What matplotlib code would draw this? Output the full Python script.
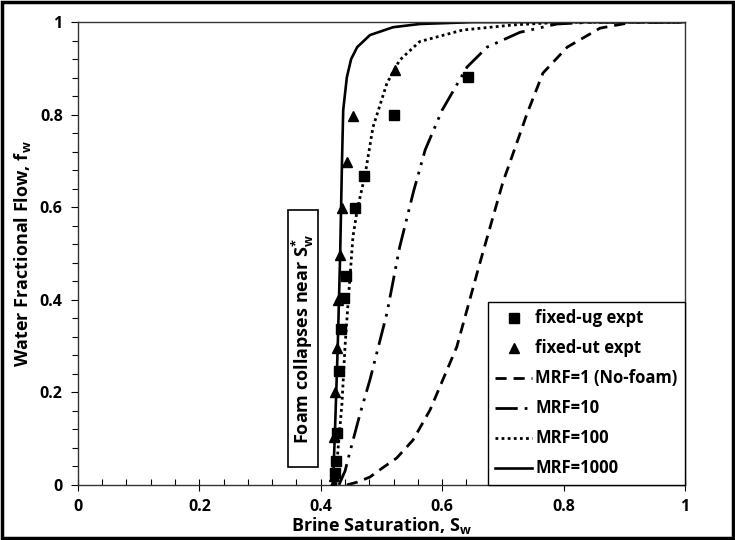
import matplotlib
matplotlib.use('Agg')
import matplotlib.pyplot as plt
from matplotlib.patches import Rectangle
from matplotlib.ticker import MultipleLocator, FuncFormatter

plt.rcParams['font.family'] = ['Open Sans', 'DejaVu Sans']
plt.rcParams['font.weight'] = 'bold'
plt.rcParams['mathtext.fontset'] = 'custom'
plt.rcParams['mathtext.rm'] = 'Open Sans:bold'
plt.rcParams['mathtext.it'] = 'Open Sans:bold'
plt.rcParams['mathtext.bf'] = 'Open Sans:bold'

# experimental points
ug_sw = [0.423, 0.425, 0.427, 0.430, 0.433, 0.438, 0.441, 0.456, 0.472, 0.521, 0.642]
ug_fw = [0.026, 0.052, 0.112, 0.246, 0.337, 0.404, 0.451, 0.598, 0.667, 0.800, 0.882]
ut_sw = [0.420, 0.421, 0.421, 0.423, 0.426, 0.428, 0.432, 0.435, 0.443, 0.453, 0.522]
ut_fw = [0.000, 0.020, 0.104, 0.200, 0.296, 0.400, 0.497, 0.598, 0.698, 0.797, 0.896]

# model curves
mrf1_sw = [0.443, 0.460, 0.481, 0.502, 0.525, 0.552, 0.580, 0.624, 0.662, 0.700, 0.717,
           0.740, 0.766, 0.806, 0.860, 0.914, 1.0]
mrf1_fw = [0.0, 0.006, 0.017, 0.037, 0.058, 0.097, 0.162, 0.298, 0.479, 0.654, 0.717,
           0.803, 0.890, 0.946, 0.987, 1.0, 1.0]
mrf10_sw = [0.430, 0.440, 0.448, 0.465, 0.481, 0.509, 0.530, 0.553, 0.572, 0.600, 0.641,
            0.674, 0.728, 0.789, 0.850, 1.0]
mrf10_fw = [0.0, 0.030, 0.071, 0.155, 0.227, 0.371, 0.514, 0.635, 0.724, 0.810, 0.903,
            0.946, 0.978, 0.996, 1.0, 1.0]
mrf100_sw = [0.425, 0.428, 0.435, 0.440, 0.445, 0.453, 0.460, 0.473, 0.486, 0.509, 0.530,
             0.563, 0.634, 0.717, 0.800, 1.0]
mrf100_fw = [0.0, 0.070, 0.177, 0.300, 0.393, 0.536, 0.594, 0.670, 0.773, 0.868, 0.918,
             0.958, 0.983, 0.994, 1.0, 1.0]
mrf1000_sw = [0.420, 0.423, 0.428, 0.432, 0.435, 0.437, 0.443, 0.450, 0.460, 0.481, 0.519,
              0.563, 0.650, 1.0]
mrf1000_fw = [0.0, 0.100, 0.300, 0.500, 0.700, 0.810, 0.881, 0.920, 0.946, 0.972, 0.989,
              0.996, 1.0, 1.0]

fig = plt.figure(figsize=(7.35, 5.4), dpi=100)
ax = fig.add_axes([0.106, 0.102, 0.826, 0.857])

ax.plot(ug_sw, ug_fw, 's', color='black', markersize=7.5, label='fixed-ug expt', zorder=5)
ax.plot(ut_sw, ut_fw, '^', color='black', markersize=7.5, label='fixed-ut expt', zorder=5)
ax.plot(mrf1_sw, mrf1_fw, color='black', lw=2, linestyle=(0, (4, 2.5)), label='MRF=1 (No-foam)')
ax.plot(mrf10_sw, mrf10_fw, color='black', lw=2, linestyle=(0, (8, 2.5, 1, 2.5, 1, 2.5)), label='MRF=10')
ax.plot(mrf100_sw, mrf100_fw, color='black', lw=2, linestyle=(0, (1, 1.2)), label='MRF=100')
ax.plot(mrf1000_sw, mrf1000_fw, color='black', lw=1.9, linestyle='-', label='MRF=1000')

ax.set_xlim(0, 1)
ax.set_ylim(0, 1)
fmt = FuncFormatter(lambda v, p: f'{v:g}')
ax.xaxis.set_major_locator(MultipleLocator(0.2))
ax.xaxis.set_minor_locator(MultipleLocator(0.04))
ax.yaxis.set_major_locator(MultipleLocator(0.2))
ax.yaxis.set_minor_locator(MultipleLocator(0.04))
ax.xaxis.set_major_formatter(fmt)
ax.yaxis.set_major_formatter(fmt)
ax.tick_params(axis='x', which='major', direction='inout', length=8, width=0.8, labelsize=11.5, pad=6)
ax.tick_params(axis='x', which='minor', direction='in', length=4, width=0.8)
ax.tick_params(axis='y', which='major', direction='out', length=5, width=0.8, labelsize=11.5, pad=6)
ax.tick_params(axis='y', which='minor', direction='out', length=4, width=0.8)
for sp in ax.spines.values():
    sp.set_linewidth(1.0)
    sp.set_color('#333333')

ax.set_xlabel('Brine Saturation, S$_\\mathrm{w}$', fontsize=13, fontweight='bold', labelpad=0)
ax.set_ylabel('Water Fractional Flow, f$_\\mathrm{w}$', fontsize=13, fontweight='bold', labelpad=5)

ax.add_patch(Rectangle((0.346, 0.039), 0.049, 0.555, fill=False, edgecolor='black', lw=1.2, zorder=3))
ax.text(0.371, 0.316, 'Foam collapses near S$^{*}_\\mathrm{w}$', rotation=90,
        ha='center', va='center', fontsize=13, fontweight='bold')

leg = ax.legend(loc='lower right', fontsize=12, frameon=True, fancybox=False,
                edgecolor='black', framealpha=1, borderaxespad=0,
                handlelength=2.2, handletextpad=0.2, labelspacing=0.72,
                borderpad=0.45)
leg.get_frame().set_linewidth(1.0)

fig.add_artist(Rectangle((0.003, 0.003), 0.994, 0.994, transform=fig.transFigure,
                         fill=False, edgecolor='black', lw=2.5))

fig.savefig('out.png', dpi=100)
